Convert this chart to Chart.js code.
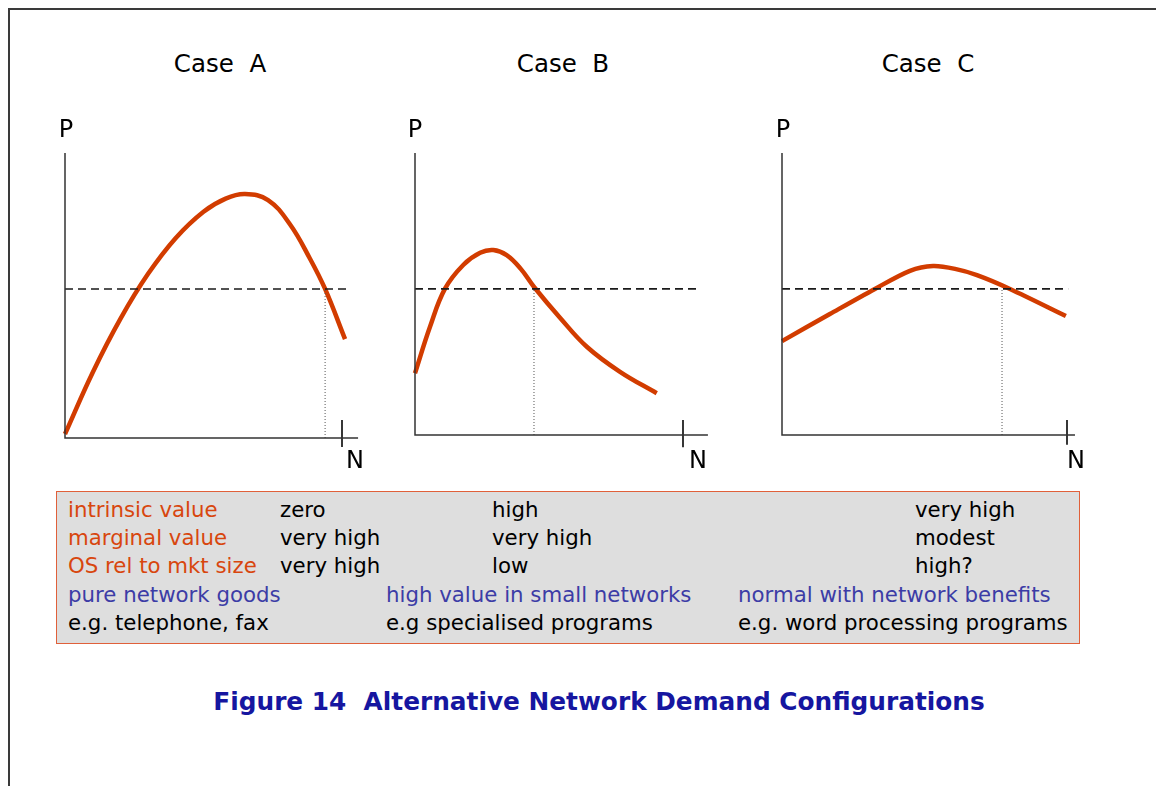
<!DOCTYPE html>
<html>
<head>
<meta charset="utf-8">
<script src="https://cdn.jsdelivr.net/npm/chart.js@4/dist/chart.umd.min.js"></script>
<style>
  html, body { margin: 0; padding: 0; background: #fff; }
  body { width: 1156px; height: 786px; position: relative; overflow: hidden; font-family: "DejaVu Sans", "Noto Sans", sans-serif; }
  .frame { position: absolute; left: 8px; top: 8px; right: -4px; bottom: -4px; border-top: 2px solid #3a3a3a; border-left: 2px solid #3a3a3a; }
  canvas { position: absolute; }
  .lbl { position: absolute; transform: translate(-50%, -50%); color: #000; white-space: pre; }
  .case { font-size: 24.5px; }
  .axis { font-size: 24px; }
  .table { position: absolute; left: 56px; top: 491px; width: 1022px; height: 151px; background: #dedede; border: 1.5px solid #e0603a; }
  .cell { position: absolute; transform: translateY(-50%); font-size: 21.3px; white-space: pre; color: #000; }
  .cell.orange { color: #d8460e; }
  .cell.blue { color: #3c3ca6; }
  .caption { position: absolute; left: 599px; top: 701px; transform: translate(-50%, -50%); font-size: 24.8px; font-weight: bold; color: #1616a0; white-space: pre; }
</style>
</head>
<body>
<div class="frame"></div>

<canvas id="chartA"></canvas>
<canvas id="chartB"></canvas>
<canvas id="chartC"></canvas>

<div class="table" id="table"></div>
<div class="caption">Figure 14  Alternative Network Demand Configurations</div>

<script>
// data (N on x, P on y; N = 100 at the axis tick, P = 100 at the top of the P axis)
const caseTitles = ["Case A", "Case B", "Case C"];

const curveA = [
  [0, 1.4], [10, 23.0], [20, 41.8], [30, 57.6], [40, 70.2], [50, 79.4], [58, 84.0], [65, 85.6],
  [73.3, 83.5], [81.2, 75.0], [88.4, 63.0], [93.9, 52.3], [101.1, 34.7]
];
const curveB = [
  [0, 21.9], [5.6, 38.4], [11.2, 51.9], [18.0, 60.3], [24.3, 64.6], [29.2, 65.6],
  [34.2, 63.8], [39.4, 59.0], [44.5, 52.4], [54.1, 41.6], [64.1, 31.3], [76.5, 22.4], [90.2, 14.8]
];
const curveC = [
  [0, 33.3], [16.8, 42.9], [32.6, 51.8], [44.9, 58.2], [53.0, 59.9], [60.7, 58.9],
  [68.4, 56.7], [80.0, 51.8], [99.6, 42.2]
];

// horizontal price level (dashed) and the N where it is met (dotted)
const priceLevel = [52.3, 51.8, 51.8];
const dashedEnd = [103.2, 106.3, 100.4];
const equilibriumN = [93.9, 44.4, 77.2];
const axisEndN = [105.8, 109.3, 102.8];

// table below the charts
const rowLabels = ["intrinsic value", "marginal value", "OS rel to mkt size"];
const caseAValues = ["zero", "very high", "very high"];
const caseBValues = ["high", "very high", "low"];
const caseCValues = ["very high", "modest", "high?"];
const goodTypes = ["pure network goods", "high value in small networks", "normal with network benefits"];
const examples = ["e.g. telephone, fax", "e.g specialised programs", "e.g. word processing programs"];

// layout: origin of each panel on the page and pixels per unit
const panels = [
  { id: "chartA", ox: 65, oy: 438, pxX: 2.77, pxY: 2.85, left: 48, right: 372, tickTop: 6.3, tickBot: -3.2, tension: 0.4 },
  { id: "chartB", ox: 415, oy: 435, pxX: 2.68, pxY: 2.82, left: 398, right: 722, tickTop: 5.3, tickBot: -4.3, tension: 0.4 },
  { id: "chartC", ox: 782, oy: 435, pxX: 2.85, pxY: 2.82, left: 765, right: 1089, tickTop: 5.3, tickBot: -3.5, tension: 0.3 }
];
const canvasTop = 140;
const canvasBottom = 456;
const curves = [curveA, curveB, curveC];

const toPts = (arr) => arr.map(([x, y]) => ({ x, y }));

panels.forEach((p, i) => {
  const canvas = document.getElementById(p.id);
  const w = p.right - p.left;
  const h = canvasBottom - canvasTop;
  canvas.width = w;
  canvas.height = h;
  canvas.style.left = p.left + "px";
  canvas.style.top = canvasTop + "px";
  canvas.style.width = w + "px";
  canvas.style.height = h + "px";

  const xMin = (p.left - p.ox) / p.pxX;
  const xMax = (p.right - p.ox) / p.pxX;
  const yMax = (p.oy - canvasTop) / p.pxY;
  const yMin = (p.oy - canvasBottom) / p.pxY;

  const axisStyle = { borderColor: "#333333", borderWidth: 1.5, pointRadius: 0, tension: 0 };

  new Chart(canvas, {
    type: "line",
    data: {
      datasets: [
        { ...axisStyle, data: toPts([[0, 100], [0, 0], [axisEndN[i], 0]]) },
        { ...axisStyle, borderWidth: 1.8, borderColor: "#222222", data: toPts([[100, p.tickTop], [100, p.tickBot]]) },
        {
          data: toPts([[0, priceLevel[i]], [dashedEnd[i], priceLevel[i]]]),
          borderColor: "#1a1a1a", borderWidth: 1.6, borderDash: [8, 5], pointRadius: 0
        },
        {
          data: toPts([[equilibriumN[i], 0], [equilibriumN[i], priceLevel[i]]]),
          borderColor: "#555555", borderWidth: 1, borderDash: [1, 2], pointRadius: 0
        },
        {
          data: toPts(curves[i]),
          borderColor: "#d23c00", borderWidth: 4.5, pointRadius: 0,
          tension: p.tension, borderCapStyle: "butt"
        }
      ]
    },
    options: {
      responsive: false,
      animation: false,
      layout: { padding: 0 },
      plugins: { legend: { display: false }, tooltip: { enabled: false } },
      scales: {
        x: { type: "linear", display: false, min: xMin, max: xMax },
        y: { type: "linear", display: false, min: yMin, max: yMax }
      }
    }
  });
});

// text labels around the panels
const addLabel = (text, x, y, cls) => {
  const el = document.createElement("div");
  el.className = "lbl " + cls;
  el.textContent = text;
  el.style.left = x + "px";
  el.style.top = y + "px";
  document.body.appendChild(el);
};
const titleX = [220, 563, 928];
caseTitles.forEach((t, i) => addLabel(t.replace(" ", "  "), titleX[i], 63, "case"));
const pX = [66, 415, 783];
const nX = [355, 698, 1076];
pX.forEach((x) => addLabel("P", x, 129, "axis"));
nX.forEach((x) => addLabel("N", x, 460, "axis"));

// table
const table = document.getElementById("table");
const addCell = (text, x, y, cls) => {
  const el = document.createElement("div");
  el.className = "cell " + (cls || "");
  el.textContent = text;
  el.style.left = (x - 57) + "px";
  el.style.top = (y - 492) + "px";
  table.appendChild(el);
};
const rowY = [509, 537, 565, 594, 622];
rowLabels.forEach((t, r) => {
  addCell(t, 68, rowY[r], "orange");
  addCell(caseAValues[r], 280, rowY[r]);
  addCell(caseBValues[r], 492, rowY[r]);
  addCell(caseCValues[r], 915, rowY[r]);
});
const groupX = [68, 386, 738];
goodTypes.forEach((t, c) => addCell(t, groupX[c], rowY[3], "blue"));
examples.forEach((t, c) => addCell(t, groupX[c], rowY[4]));
</script>
</body>
</html>
